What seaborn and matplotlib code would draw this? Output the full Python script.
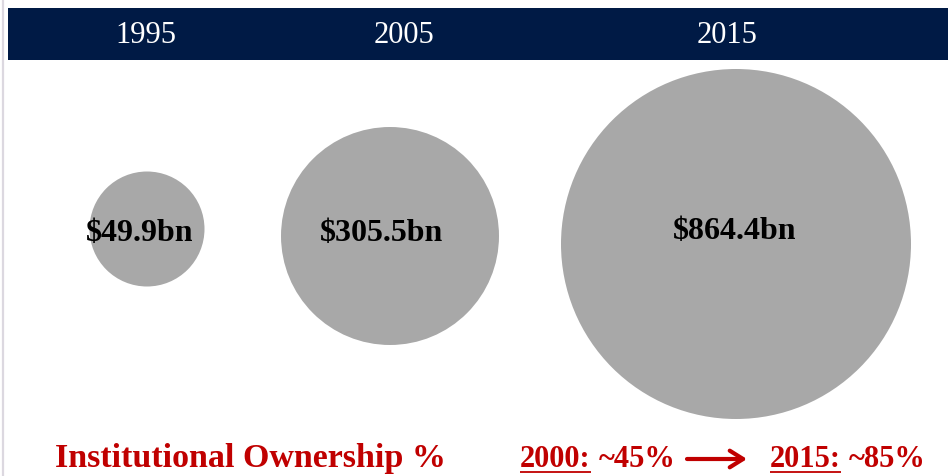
import matplotlib
matplotlib.use("Agg")
import matplotlib.pyplot as plt
import seaborn as sns
import pandas as pd

# ---- data ----
years = ["1995", "2005", "2015"]
values = [49.9, 305.5, 864.4]                 # $bn
value_labels = ["$49.9bn", "$305.5bn", "$864.4bn"]
own_years = ["2000:", "2015:"]
own_pct = ["~45%", "~85%"]
bottom_title = "Institutional Ownership %"

# ---- layout (pixel-like axes coordinates) ----
W, H = 948, 476
circle_x = [147, 390, 736]
circle_y = [229, 236, 244]
label_x = [140, 382, 735]
label_y = [241, 241, 239]
header_x = [146, 404, 727]

NAVY = "#001A45"
GREY = "#A8A8A8"
RED = "#C00000"
SERIF = ["Liberation Serif", "DejaVu Serif"]

sns.set_theme(style="white")
plt.rcParams["font.family"] = SERIF

fig = plt.figure(figsize=(W / 100, H / 100), dpi=100)
ax = fig.add_axes([0, 0, 1, 1])

# header bar
ax.add_patch(plt.Rectangle((8, 8), W - 8, 52, color=NAVY, lw=0, zorder=1))
for x, yr in zip(header_x, years):
    ax.text(x, 43, yr, color="white", fontsize=22, ha="center", va="baseline",
            family=SERIF, zorder=3)

# left thin grey rule
ax.axvline(3.5, color="#DCD8E0", lw=1.6, zorder=0)

# bubbles
df = pd.DataFrame({"year": years, "value": values, "x": circle_x, "y": circle_y})
def s_of(d_px):
    return (d_px * 0.72) ** 2
sns.scatterplot(data=df, x="x", y="y", size="value", sizes=(s_of(115), s_of(350)),
                color=GREY, linewidth=0, alpha=1, legend=False, ax=ax, zorder=2)
ax.set_xlim(0, W)
ax.set_ylim(H, 0)
ax.axis("off")

for x, y, lab in zip(label_x, label_y, value_labels):
    ax.text(x, y, lab, fontsize=23, fontweight="bold", color="black",
            ha="center", va="baseline", parse_math=False, zorder=3)

# bottom line
ax.text(55, 467, bottom_title, fontsize=24.5, fontweight="bold", color=RED,
        ha="left", va="baseline", parse_math=False)

fig.canvas.draw()
renderer = fig.canvas.get_renderer()
inv = ax.transData.inverted()

for yx, px, xl in zip(own_years, own_pct, [520, 770]):
    t = ax.text(xl, 467, yx, fontsize=22, fontweight="bold", color=RED,
                ha="left", va="baseline")
    bb = t.get_window_extent(renderer)
    (x0, _), (x1, _) = inv.transform([(bb.x0, 0), (bb.x1, 0)])
    ax.plot([x0, x1], [472, 472], color=RED, lw=1.3, solid_capstyle="butt")
    ax.text(x1 + 8, 467, px, fontsize=22, fontweight="bold", color=RED,
            ha="left", va="baseline", parse_math=False)

ax.annotate("", xy=(747, 459), xytext=(687, 459),
            arrowprops=dict(arrowstyle="->,head_length=0.8,head_width=0.5",
                            color=RED, lw=3.0, shrinkA=0, shrinkB=0))

fig.savefig("out.png", dpi=100)
